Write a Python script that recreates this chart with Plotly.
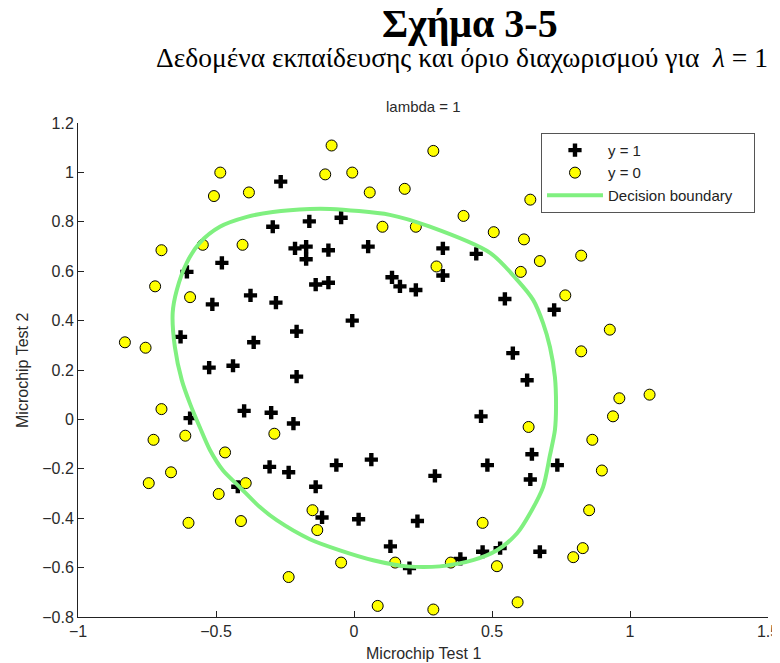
import plotly.graph_objects as go

# y = 1 (accepted) microchips
pos_x = [0.051267, -0.092742, -0.21371, -0.375, -0.51325, -0.52477, -0.39804, -0.30588, 0.016705, 0.13191,
         0.38537, 0.52938, 0.63882, 0.73675, 0.54666, 0.322, 0.16647, -0.046659, -0.17339, -0.47869,
         -0.60541, -0.62846, -0.59389, -0.42108, -0.11578, 0.20104, 0.46601, 0.67339, -0.13882, -0.29435,
         -0.26555, -0.16187, -0.17339, -0.28283, -0.36348, -0.30012, -0.23675, -0.06394, 0.062788, 0.22984,
         0.2932, 0.48329, 0.64459, 0.46025, 0.6273, 0.57546, 0.72523, 0.22408, 0.44297, 0.322,
         0.13767, -0.0063364, -0.092742, -0.20795, -0.20795, -0.43836, -0.21947, -0.13882]
pos_y = [0.69956, 0.68494, 0.69225, 0.50219, 0.46564, 0.2098, 0.034357, -0.19225, -0.40424, -0.51389,
         -0.56506, -0.5212, -0.24342, -0.18494, 0.48757, 0.5826, 0.53874, 0.81652, 0.69956, 0.63377,
         0.59722, 0.33406, 0.005117, -0.27266, -0.39693, -0.60161, -0.53582, -0.53582, 0.54605, 0.77997,
         0.96272, 0.8019, 0.64839, 0.47295, 0.31213, 0.027047, -0.21418, -0.18494, -0.16301, -0.41155,
         -0.2288, -0.18494, -0.14108, 0.012427, 0.15863, 0.26827, 0.44371, 0.52412, 0.67032, 0.69225,
         0.57529, 0.39985, 0.55336, 0.35599, 0.17325, 0.21711, -0.016813, -0.27266]

# y = 0 (rejected) microchips
neg_x = [0.18376, 0.22408, 0.29896, 0.50634, 0.61578, 0.60426, 0.76555, 0.92684, 0.82316, 0.96141,
         0.93836, 0.86348, 0.89804, 0.85196, 0.82892, 0.79435, 0.59274, 0.51786, 0.46601, 0.35081,
         0.28744, 0.085829, 0.14919, -0.13306, -0.40956, -0.39228, -0.74366, -0.69758, -0.75518, -0.69758,
         -0.4038, -0.38076, -0.50749, -0.54781, 0.10311, 0.057028, -0.10426, -0.081221, 0.28744, 0.39689,
         0.63882, 0.82316, 0.67339, 1.0709, -0.046659, -0.23675, -0.15035, -0.49021, -0.46717, -0.28859,
         -0.61118, -0.66302, -0.59965, -0.72638, -0.83007, -0.72062, -0.59389, -0.48445, -0.0063364, 0.63265]
neg_y = [0.93348, 0.77997, 0.61915, 0.75804, 0.7288, 0.59722, 0.50219, 0.3633, 0.27558, 0.085526,
         0.012427, -0.082602, -0.20687, -0.36769, -0.5212, -0.55775, -0.7405, -0.5943, -0.41886, -0.57968,
         -0.76974, -0.75512, -0.57968, -0.4481, -0.41155, -0.25804, -0.25804, 0.041667, 0.2902, 0.68494,
         0.70687, 0.91886, 0.90424, 0.70687, 0.77997, 0.91886, 0.99196, 1.1089, 1.087, 0.82383,
         0.88962, 0.66301, 0.64108, 0.10015, -0.57968, -0.63816, -0.36769, -0.3019, -0.13377, -0.058,
         -0.066, -0.21418, -0.41886, -0.082602, 0.31213, 0.53874, 0.49488, 0.99927, 0.99927, -0.030612]

# decision boundary
bnd_x = [-0.642, -0.606, -0.559, -0.486, -0.388, -0.294, -0.160, -0.087, 0.130, 0.275,
         0.493, 0.591, 0.649, 0.685, 0.710, 0.728, 0.732, 0.728, 0.710, 0.685,
         0.638, 0.591, 0.518, 0.431, 0.311, 0.192, 0.069, -0.051, -0.160, -0.280,
         -0.341, -0.414, -0.475, -0.522, -0.559, -0.595, -0.624, -0.649, -0.657, -0.642]
bnd_y = [0.524, 0.634, 0.715, 0.780, 0.820, 0.840, 0.852, 0.852, 0.828, 0.780,
         0.674, 0.565, 0.484, 0.390, 0.293, 0.171, 0.050, -0.043, -0.145, -0.274,
         -0.380, -0.461, -0.530, -0.570, -0.595, -0.595, -0.570, -0.530, -0.485, -0.408,
         -0.355, -0.274, -0.206, -0.124, -0.031, 0.066, 0.159, 0.293, 0.431, 0.524]

x_ticks = [-1, -0.5, 0, 0.5, 1, 1.5]
x_tick_labels = ["\u22121", "\u22120.5", "0", "0.5", "1", "1.5"]
y_ticks = [-0.8, -0.6, -0.4, -0.2, 0, 0.2, 0.4, 0.6, 0.8, 1, 1.2]
y_tick_labels = ["\u22120.8", "\u22120.6", "\u22120.4", "\u22120.2", "0", "0.2", "0.4", "0.6", "0.8", "1", "1.2"]

pad = "\u00a0" * 4

fig = go.Figure()
fig.add_trace(go.Scatter(x=pos_x, y=pos_y, mode="markers", name="y = 1",
                         marker=dict(symbol="cross", size=11, color="black", line=dict(width=0))))
fig.add_trace(go.Scatter(x=neg_x, y=neg_y, mode="markers", name="y = 0",
                         marker=dict(symbol="circle", size=11, color="#ffff00",
                                     line=dict(color="black", width=1))))
fig.add_trace(go.Scatter(x=bnd_x, y=bnd_y, mode="lines", name="Decision boundary" + pad,
                         line=dict(color="#80f080", width=4, shape="spline", smoothing=0.8)))

sans = "Liberation Sans, Arial, sans-serif"
serif = "Liberation Serif, Times New Roman, serif"
axis_font = dict(family=sans, size=16, color="#2a2a2a")
fig.update_layout(
    width=772, height=655,
    margin=dict(l=70, r=12, t=115, b=46),
    paper_bgcolor="white", plot_bgcolor="white",
    font=axis_font,
    showlegend=True,
    legend=dict(x=0.671, y=0.98, xanchor="left", yanchor="top",
                bgcolor="white", bordercolor="#555555", borderwidth=1,
                font=dict(family=sans, size=15, color="#222222"),
                tracegroupgap=0, itemwidth=56),
    xaxis=dict(range=[-1, 1.5], tickvals=x_ticks, ticktext=x_tick_labels, automargin=False,
               showgrid=False, zeroline=False, showline=True, linecolor="#222222", linewidth=1,
               ticks="inside", ticklen=6, tickcolor="#222222", mirror=False,
               tickfont=axis_font),
    yaxis=dict(range=[-0.8, 1.2], tickvals=y_ticks, ticktext=y_tick_labels, automargin=False,
               showgrid=False, zeroline=False, showline=True, linecolor="#222222", linewidth=1,
               ticks="inside", ticklen=6, tickcolor="#222222", mirror=False,
               tickfont=axis_font),
    annotations=[
        dict(text="<b>Σχήμα 3-5</b>", x=0.568, y=1.2024, xref="paper", yref="paper",
             showarrow=False, xanchor="center", yanchor="middle",
             font=dict(family=serif, size=40, color="black")),
        dict(text="Δεδομένα εκπαίδευσης και όριο διαχωρισμού για  <i>λ</i> = 1", x=0.5565, y=1.1316,
             xref="paper", yref="paper", showarrow=False, xanchor="center", yanchor="middle",
             font=dict(family=serif, size=27.5, color="black")),
        dict(text="lambda = 1", x=0.5, y=1.0, xref="paper", yref="paper", yshift=6,
             showarrow=False, xanchor="center", yanchor="bottom",
             font=dict(family=sans, size=15, color="#2a2a2a")),
        dict(text="Microchip Test 1", x=0.5, y=-0.0729, xref="paper", yref="paper",
             showarrow=False, xanchor="center", yanchor="middle", font=axis_font),
        dict(text="Microchip Test 2", x=-0.0812, y=0.5, xref="paper", yref="paper", textangle=-90,
             showarrow=False, xanchor="center", yanchor="middle", font=axis_font),
    ],
)
fig.write_html("out.html")
